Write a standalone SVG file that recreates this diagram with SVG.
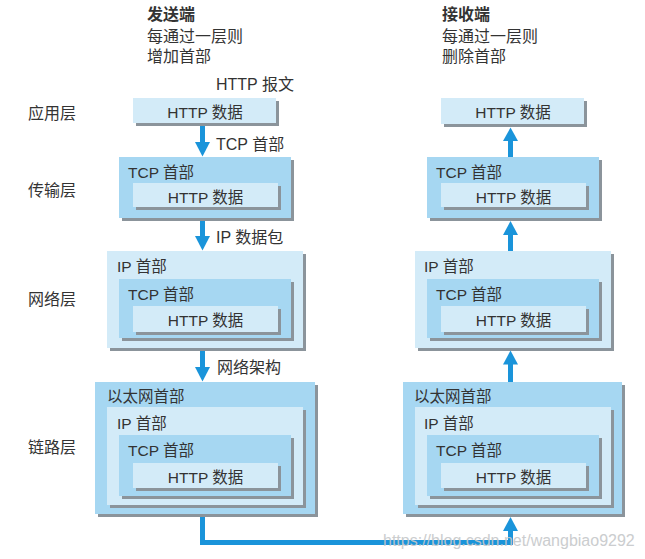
<svg xmlns="http://www.w3.org/2000/svg" width="645" height="559" viewBox="0 0 645 559">
<style>
.light{fill:#d3ebf8}
.mid{fill:#a6d7f2}
.sh{fill:#8b949b}
.t{font-family:"Liberation Sans","Noto Sans CJK SC",sans-serif;font-size:16px;fill:#333}
.b{font-family:"Liberation Sans","Noto Sans CJK SC",sans-serif;font-size:15.5px;fill:#333}
.c{text-anchor:middle}
.title{font-weight:bold}
.arr{fill:#1a94da}
.line{fill:none;stroke:#1a94da;stroke-width:5}
.wm{font-family:"Liberation Sans",sans-serif;font-size:16px;fill:#c6c8ca;opacity:0.9}
</style>
<rect width="645" height="559" fill="#fff"/>

<g id="labels">
<text class="t title" x="147" y="20">发送端</text>
<text class="t" x="147" y="42">每通过一层则</text>
<text class="t" x="147" y="62">增加首部</text>
<text class="t title" x="442" y="20">接收端</text>
<text class="t" x="442" y="42">每通过一层则</text>
<text class="t" x="442" y="62">删除首部</text>
<text class="t" x="216" y="90">HTTP 报文</text>
<text class="t" x="28" y="119">应用层</text>
<text class="t" x="28" y="196">传输层</text>
<text class="t" x="28" y="305">网络层</text>
<text class="t" x="28" y="453">链路层</text>
<text class="t" x="216" y="150">TCP 首部</text>
<text class="t" x="216" y="243">IP 数据包</text>
<text class="t" x="217" y="373">网络架构</text>
</g>

<g id="send-app">
<rect class="sh" x="136" y="101" width="143" height="25"/>
<rect class="light" x="133" y="98" width="143" height="25"/>
<text class="b c" x="205" y="118">HTTP 数据</text>
</g>

<g id="send-transport">
<rect class="sh" x="122" y="160" width="172" height="61"/>
<rect class="mid" x="119" y="157" width="172" height="61"/>
<text class="b" x="128" y="178">TCP 首部</text>
<rect class="sh" x="136" y="186" width="145" height="24"/>
<rect class="light" x="133" y="183" width="145" height="24"/>
<text class="b c" x="205.5" y="203">HTTP 数据</text>
</g>

<g id="send-network">
<rect class="sh" x="110" y="254" width="196" height="97"/>
<rect class="light" x="107" y="251" width="196" height="97"/>
<text class="b" x="117" y="271.5">IP 首部</text>
<rect class="sh" x="122" y="282" width="172" height="59"/>
<rect class="mid" x="119" y="279" width="172" height="59"/>
<text class="b" x="128" y="300">TCP 首部</text>
<rect class="sh" x="136" y="309" width="145" height="26"/>
<rect class="light" x="133" y="306" width="145" height="26"/>
<text class="b c" x="205.5" y="326">HTTP 数据</text>
</g>

<g id="send-link">
<rect class="sh" x="98" y="385" width="220" height="132"/>
<rect class="mid" x="95" y="382" width="220" height="132"/>
<text class="b" x="107" y="402">以太网首部</text>
<rect class="sh" x="110" y="410" width="196" height="98"/>
<rect class="light" x="107" y="407" width="196" height="98"/>
<text class="b" x="117" y="428.5">IP 首部</text>
<rect class="sh" x="122" y="438" width="172" height="61"/>
<rect class="mid" x="119" y="435" width="172" height="61"/>
<text class="b" x="128" y="456">TCP 首部</text>
<rect class="sh" x="136" y="466" width="145" height="25"/>
<rect class="light" x="133" y="463" width="145" height="25"/>
<text class="b c" x="205.5" y="483">HTTP 数据</text>
</g>

<g id="recv-app">
<rect class="sh" x="444" y="101" width="143" height="26"/>
<rect class="light" x="441" y="98" width="143" height="26"/>
<text class="b c" x="513" y="118">HTTP 数据</text>
</g>

<g id="recv-transport">
<rect class="sh" x="430" y="160" width="172" height="61"/>
<rect class="mid" x="427" y="157" width="172" height="61"/>
<text class="b" x="436" y="178">TCP 首部</text>
<rect class="sh" x="444" y="186" width="145" height="24"/>
<rect class="light" x="441" y="183" width="145" height="24"/>
<text class="b c" x="513.5" y="203">HTTP 数据</text>
</g>

<g id="recv-network">
<rect class="sh" x="418" y="254" width="196" height="97"/>
<rect class="light" x="415" y="251" width="196" height="97"/>
<text class="b" x="424" y="271.5">IP 首部</text>
<rect class="sh" x="430" y="282" width="172" height="59"/>
<rect class="mid" x="427" y="279" width="172" height="59"/>
<text class="b" x="436" y="300">TCP 首部</text>
<rect class="sh" x="444" y="309" width="145" height="26"/>
<rect class="light" x="441" y="306" width="145" height="26"/>
<text class="b c" x="513.5" y="326">HTTP 数据</text>
</g>

<g id="recv-link">
<rect class="sh" x="406" y="385" width="219" height="132"/>
<rect class="mid" x="403" y="382" width="219" height="132"/>
<text class="b" x="414" y="402">以太网首部</text>
<rect class="sh" x="418" y="410" width="196" height="98"/>
<rect class="light" x="415" y="407" width="196" height="98"/>
<text class="b" x="424" y="428.5">IP 首部</text>
<rect class="sh" x="430" y="438" width="172" height="61"/>
<rect class="mid" x="427" y="435" width="172" height="61"/>
<text class="b" x="436" y="456">TCP 首部</text>
<rect class="sh" x="444" y="466" width="145" height="25"/>
<rect class="light" x="441" y="463" width="145" height="25"/>
<text class="b c" x="513.5" y="483">HTTP 数据</text>
</g>

<g id="connectors">
<rect class="arr" x="200" y="126" width="5" height="17"/>
<polygon class="arr" points="195,142 210,142 202.5,156.5"/>
<rect class="arr" x="200" y="221" width="5" height="16"/>
<polygon class="arr" points="195,236 210,236 202.5,250.5"/>
<rect class="arr" x="200" y="351" width="5" height="17"/>
<polygon class="arr" points="195,367 210,367 202.5,381.5"/>
<path class="line" d="M202.5,517 V542.5 H510.5 V530"/>
<polygon class="arr" points="503,531 518,531 510.5,517"/>
<rect class="arr" x="508" y="140" width="5" height="17"/>
<polygon class="arr" points="503,141 518,141 510.5,127.5"/>
<rect class="arr" x="508" y="234" width="5" height="17"/>
<polygon class="arr" points="503,235 518,235 510.5,221"/>
<rect class="arr" x="508" y="364" width="5" height="18"/>
<polygon class="arr" points="503,364.5 518,364.5 510.5,350.5"/>
</g>

<text class="wm" x="383" y="546">https://blog.csdn.net/wangbiao9292</text>
</svg>
